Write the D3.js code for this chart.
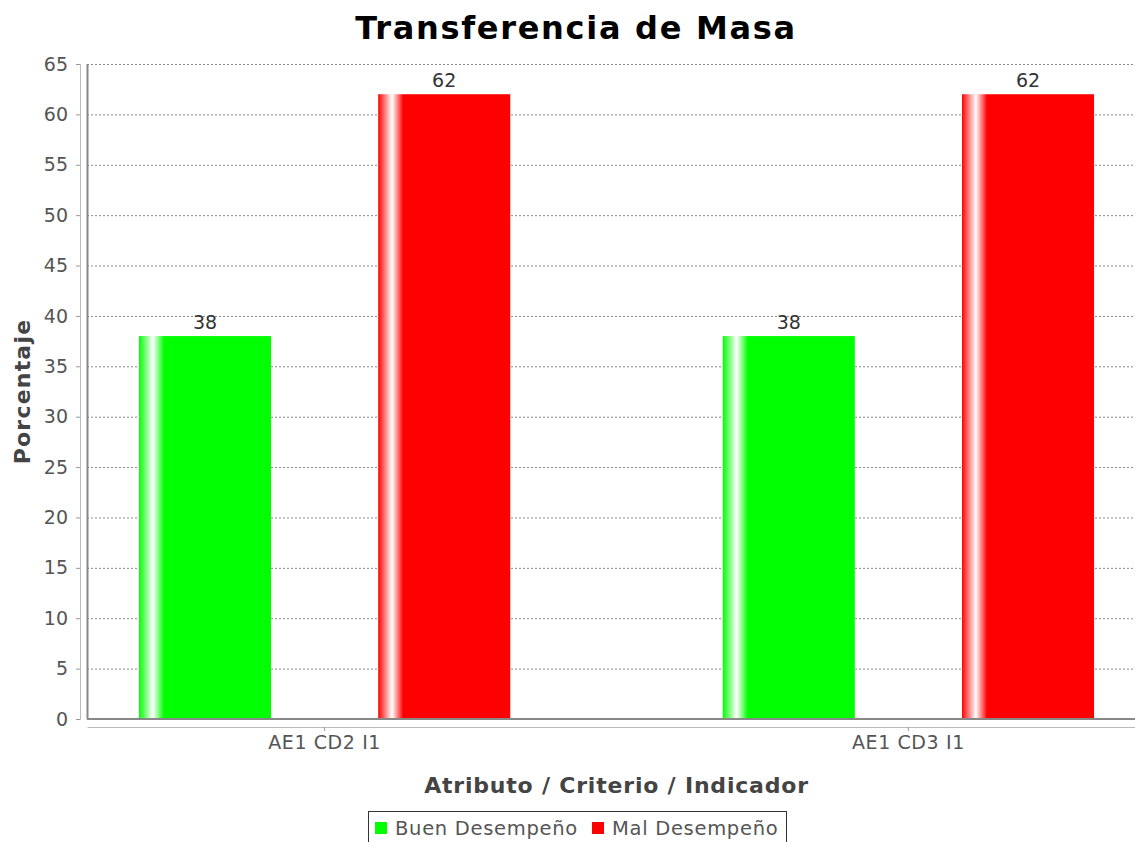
<!DOCTYPE html>
<html>
<head>
<meta charset="utf-8">
<title>Transferencia de Masa</title>
<script src="https://d3js.org/d3.v7.min.js"></script>
<style>
  body { margin: 0; background: #fff; }
  text { font-family: "DejaVu Sans", sans-serif; }
</style>
</head>
<body>
<svg width="1135" height="842"></svg>
<script>
var categories = ["AE1 CD2 I1", "AE1 CD3 I1"];
var series = ["Buen Desempeño", "Mal Desempeño"];
var buenValues = [38, 38];
var malValues = [62, 62];
var yTicks = [0, 5, 10, 15, 20, 25, 30, 35, 40, 45, 50, 55, 60, 65];
var colors = ["#00ff00", "#ff0000"];

var svg = d3.select("svg"),
    margin = {top: 64, left: 87},
    plotW = 1059,
    plotH = 655;

var data = categories.map(function(c, i) {
    return {cat: c, values: [buenValues[i], malValues[i]]};
});

var x0 = d3.scaleBand().domain(categories).range([0, plotW])
    .paddingInner(0.364).paddingOuter(0.089);
var x1 = d3.scaleBand().domain(series).range([0, x0.bandwidth()])
    .paddingInner(0.448).paddingOuter(0);
var y = d3.scaleLinear().domain([0, 65]).range([plotH, 0]);

// gradients
var defs = svg.append("defs");
series.forEach(function(s, i) {
    var g = defs.append("linearGradient").attr("id", "grad" + i)
        .attr("x1", "0%").attr("x2", "100%").attr("y1", "0%").attr("y2", "0%");
    g.append("stop").attr("offset", "0%").attr("stop-color", colors[i]);
    g.append("stop").attr("offset", "10.5%").attr("stop-color", "#ffffff");
    g.append("stop").attr("offset", "19%").attr("stop-color", colors[i]);
    g.append("stop").attr("offset", "100%").attr("stop-color", colors[i]);
});

// title
svg.append("text")
    .attr("x", 576).attr("y", 39)
    .attr("text-anchor", "middle")
    .style("font-size", "32px").style("font-weight", "bold")
    .style("letter-spacing", "1.7px")
    .attr("fill", "#000")
    .text("Transferencia de Masa");

var g = svg.append("g")
    .attr("transform", "translate(" + margin.left + "," + margin.top + ")");

// gridlines
g.selectAll(".grid")
    .data(yTicks.filter(function(d) { return d > 0; }))
    .enter().append("line")
    .attr("x1", 0).attr("x2", plotW)
    .attr("y1", function(d) { return y(d) + 0.5; })
    .attr("y2", function(d) { return y(d) + 0.5; })
    .attr("stroke", "#888").attr("stroke-width", 1)
    .attr("stroke-dasharray", "2,2");

// bars
var cat = g.selectAll(".cat")
    .data(data)
    .enter().append("g")
    .attr("transform", function(d) { return "translate(" + x0(d.cat) + ",0)"; });

cat.selectAll("rect")
    .data(function(d) { return d.values.map(function(v, i) { return {s: series[i], v: v, i: i}; }); })
    .enter().append("rect")
    .attr("x", function(d) { return x1(d.s); })
    .attr("y", function(d) { return y(d.v); })
    .attr("width", x1.bandwidth())
    .attr("height", function(d) { return plotH - y(d.v); })
    .attr("fill", function(d) { return "url(#grad" + d.i + ")"; });

cat.selectAll(".val")
    .data(function(d) { return d.values.map(function(v, i) { return {s: series[i], v: v}; }); })
    .enter().append("text")
    .attr("x", function(d) { return x1(d.s) + x1.bandwidth() / 2; })
    .attr("y", function(d) { return y(d.v) - 7; })
    .attr("text-anchor", "middle")
    .style("font-size", "19px")
    .attr("fill", "#333")
    .text(function(d) { return d.v; });

// plot border (left and bottom)
g.append("line").attr("x1", 0.5).attr("x2", 0.5).attr("y1", 0).attr("y2", plotH)
    .attr("stroke", "#888").attr("stroke-width", 2);
g.append("line").attr("x1", 0).attr("x2", plotW).attr("y1", plotH).attr("y2", plotH)
    .attr("stroke", "#888").attr("stroke-width", 2);

// y axis (offset left)
var yAxis = g.append("g")
    .attr("transform", "translate(-7,0)")
    .call(d3.axisLeft(y).tickValues(yTicks).tickSize(4).tickPadding(8));
yAxis.select(".domain").attr("stroke", "#bbb");
yAxis.selectAll(".tick line").attr("stroke", "#999");
yAxis.selectAll(".tick text")
    .attr("fill", "#555")
    .style("font-size", "19px")
    .style("font-family", "DejaVu Sans, sans-serif");

// x axis (offset below)
var xAxis = g.append("g")
    .attr("transform", "translate(0," + (plotH + 8) + ")")
    .call(d3.axisBottom(x0).tickSize(4).tickPadding(5).tickSizeOuter(0));
xAxis.select(".domain").attr("stroke", "#bbb");
xAxis.selectAll(".tick line").attr("stroke", "#999");
xAxis.selectAll(".tick text")
    .attr("fill", "#555")
    .style("font-size", "19px")
    .style("letter-spacing", "0.6px")
    .style("font-family", "DejaVu Sans, sans-serif");

// axis labels
svg.append("text")
    .attr("x", margin.left + plotW / 2).attr("y", 793)
    .attr("text-anchor", "middle")
    .style("font-size", "22px").style("font-weight", "bold")
    .style("letter-spacing", "0.8px")
    .attr("fill", "#444")
    .text("Atributo / Criterio / Indicador");

svg.append("text")
    .attr("transform", "translate(30," + (margin.top + plotH / 2) + ") rotate(-90)")
    .attr("text-anchor", "middle")
    .style("font-size", "22px").style("font-weight", "bold")
    .style("letter-spacing", "1.2px")
    .attr("fill", "#444")
    .text("Porcentaje");

// legend
var legend = svg.append("g").attr("transform", "translate(368,811)");
legend.append("rect")
    .attr("x", 0.5).attr("y", 0.5).attr("width", 418).attr("height", 40)
    .attr("fill", "#fff").attr("stroke", "#333").attr("stroke-width", 1);

var legendX = [7, 224];
series.forEach(function(s, i) {
    var it = legend.append("g").attr("transform", "translate(" + legendX[i] + ",0)");
    it.append("rect").attr("x", 0).attr("y", 11).attr("width", 12).attr("height", 12)
        .attr("fill", colors[i]);
    it.append("text").attr("x", 20).attr("y", 24)
        .style("font-size", "19.5px").style("letter-spacing", "0.7px")
        .attr("fill", "#555")
        .text(s);
});
</script>
</body>
</html>
